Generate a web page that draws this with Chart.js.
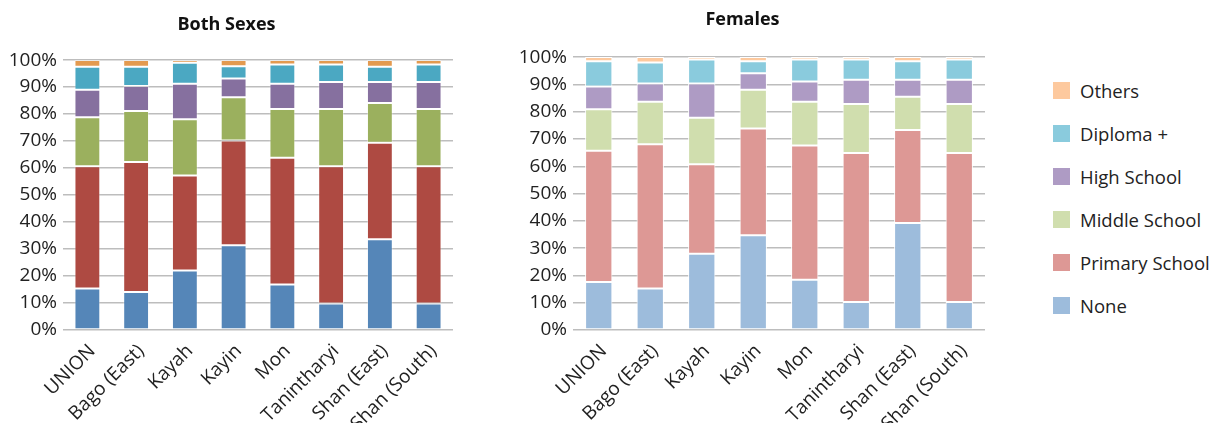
<!DOCTYPE html>
<html>
<head>
<meta charset="utf-8">
<script src="https://cdn.jsdelivr.net/npm/chart.js@4/dist/chart.umd.min.js"></script>
<style>
  body { margin: 0; background: #fff; font-family: "Open Sans", sans-serif; }
  #wrap { position: relative; width: 1216px; height: 423px; }
  #left { position: absolute; left: 0; top: 0; }
  #right { position: absolute; left: 500px; top: 0; }
  #legend { position: absolute; left: 1053px; top: 0; margin: 0; padding: 0; list-style: none; }
  #legend li { position: absolute; white-space: nowrap; font-size: 18.5px; color: #222; line-height: 17px; }
  #legend span { display: inline-block; width: 17px; height: 17px; vertical-align: top; margin-right: 10px; }
</style>
</head>
<body>
<div id="wrap">
  <canvas id="left" width="470" height="423"></canvas>
  <canvas id="right" width="500" height="423"></canvas>
  <ul id="legend"></ul>
</div>
<script>
const regions = ['UNION', 'Bago (East)', 'Kayah', 'Kayin', 'Mon', 'Tanintharyi', 'Shan (East)', 'Shan (South)'];
const levels = ['None', 'Primary School', 'Middle School', 'High School', 'Diploma +', 'Others'];
const yTicks = [0, 10, 20, 30, 40, 50, 60, 70, 80, 90, 100];

// percentages, both sexes
const bothNone     = [15.4, 14.1, 22.0, 31.4, 16.9,  9.8, 33.6,  9.8];
const bothPrimary  = [45.3, 48.1, 35.2, 38.8, 46.9, 50.9, 35.8, 50.9];
const bothMiddle   = [18.1, 18.9, 20.9, 16.0, 18.1, 21.2, 14.7, 21.2];
const bothHigh     = [10.2,  9.3, 13.1,  7.0,  9.3, 10.0,  7.8, 10.0];
const bothDiploma  = [ 8.5,  7.1,  7.8,  4.5,  7.2,  6.5,  5.6,  6.5];
const bothOthers   = [ 2.5,  2.5,  1.0,  2.3,  1.6,  1.6,  2.5,  1.6];

// percentages, females
const femNone      = [17.6, 15.2, 27.9, 34.7, 18.4, 10.3, 39.2, 10.3];
const femPrimary   = [48.1, 52.9, 32.8, 39.1, 49.2, 54.6, 34.1, 54.6];
const femMiddle    = [15.2, 15.5, 17.1, 14.2, 16.0, 17.9, 12.2, 17.9];
const femHigh      = [ 8.3,  6.7, 12.5,  6.1,  7.5,  8.9,  6.2,  8.9];
const femDiploma   = [ 9.3,  7.7,  8.8,  4.4,  8.0,  7.4,  6.8,  7.4];
const femOthers    = [ 1.5,  2.0,  0.9,  1.5,  0.9,  0.9,  1.5,  0.9];

const darkColors  = ['#5586b8', '#ae4a42', '#9bb05e', '#86709f', '#4ba8c2', '#e39a50'];
const lightColors = ['#9dbcdc', '#dd9895', '#d0deae', '#ae9bc4', '#8acbdd', '#fdc99e'];

Chart.defaults.font.family = '"Open Sans", sans-serif';
Chart.defaults.color = '#222';

function makeChart(el, title, series, colors, border, axisW, titlePad, areaRight) {
  return new Chart(el, {
    type: 'bar',
    data: {
      labels: regions,
      datasets: series.map((d, i) => ({
        label: levels[i],
        data: d,
        backgroundColor: colors[i],
        borderColor: border,
        borderWidth: 1,
        borderSkipped: false,
        barPercentage: 0.53,
        categoryPercentage: 1
      }))
    },
    options: {
      responsive: false,
      animation: false,
      layout: { padding: { left: 0, right: areaRight, top: 0, bottom: 0 } },
      scales: {
        x: {
          stacked: true,
          grid: { display: false },
          border: { display: false },
          ticks: { font: { size: 19 }, maxRotation: 45, minRotation: 45, padding: 2, labelOffset: 5 },
          afterFit: s => { s.height = 93; }
        },
        y: {
          stacked: true,
          min: 0,
          max: 100,
          afterBuildTicks: s => { s.ticks = yTicks.map(v => ({ value: v })); },
          grid: { color: '#bdbdbd', lineWidth: 1.5, drawTicks: true, tickLength: 0 },
          border: { display: false },
          ticks: { font: { size: 19 }, padding: 6, callback: v => v + '%' },
          afterFit: s => { s.width = axisW; }
        }
      },
      plugins: {
        legend: { display: false },
        tooltip: { enabled: false },
        title: {
          display: true,
          text: title,
          font: { size: 18, weight: 'bold' },
          color: '#111',
          padding: titlePad
        }
      }
    }
  });
}

makeChart(document.getElementById('left'), 'Both Sexes',
  [bothNone, bothPrimary, bothMiddle, bothHigh, bothDiploma, bothOthers],
  darkColors, 'rgba(255,255,255,0.35)', 63, { top: 14.5, bottom: 24 }, 17);

makeChart(document.getElementById('right'), 'Females',
  [femNone, femPrimary, femMiddle, femHigh, femDiploma, femOthers],
  lightColors, '#ffffff', 73, { top: 9.5, bottom: 26 }, 15);

// legend, top item first (reverse stack order)
const legend = document.getElementById('legend');
const legendTop = [82, 125, 168, 211, 254, 297];
levels.slice().reverse().forEach((name, i) => {
  const li = document.createElement('li');
  li.style.top = legendTop[i] + 'px';
  li.innerHTML = '<span style="background:' + lightColors[levels.length - 1 - i] + '"></span>' + name;
  legend.appendChild(li);
});
</script>
</body>
</html>
